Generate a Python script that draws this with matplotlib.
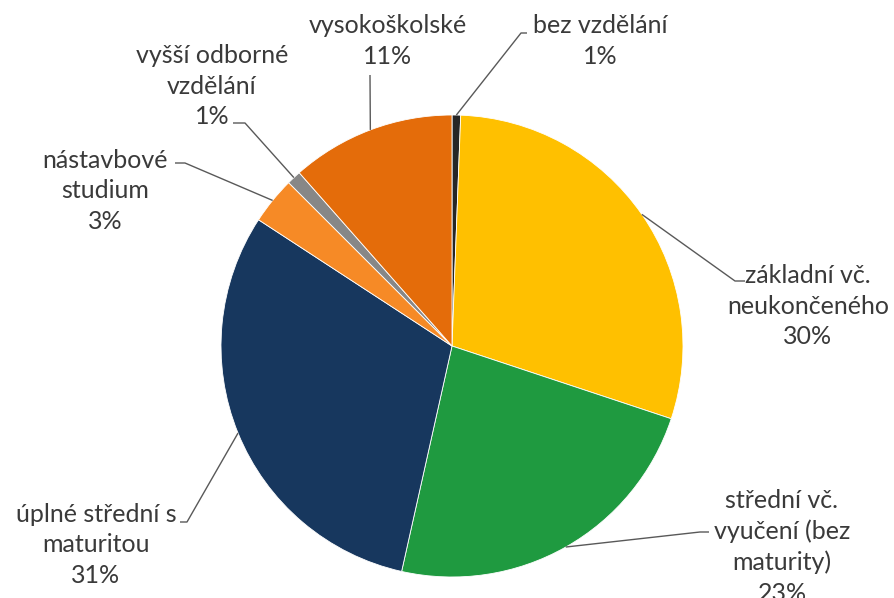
import numpy as np
import matplotlib
matplotlib.use("Agg")
from matplotlib import pyplot as plt

# data (share of population by education, clockwise from the top)
labels = ['bez vzdělání', 'základní vč.\nneukončeného', 'střední vč.\nvyučení (bez\nmaturity)',
          'úplné střední s\nmaturitou', 'nástavbové\nstudium', 'vyšší odborné\nvzdělání', 'vysokoškolské']
pct_labels = ['1%', '30%', '23%', '31%', '3%', '1%', '11%']
values = [0.6, 29.5, 23.4, 30.7, 3.3, 1.0, 11.5]
colors = ['#262626', '#FFC000', '#1F9A40', '#17375E', '#F68A26', '#878787', '#E46C0A']

# layout, in pixels of the 895x598 picture (y measured from top)
W, H = 895, 598
cx, cy, r = 452, 346, 231
# label block centre and leader elbow / end points
label_pos = [(600, 41), (808, 306), (782, 547), (96, 545), (105, 191), (212, 86), (388, 41)]
elbows = [[(521, 33), (527, 33)],
          [(735, 281), (745, 281)],
          [(700, 532), (709, 532)],
          [(187, 522), (180, 522)],
          [(185, 163), (175, 163)],
          [(245, 123), (233, 123)],
          [(370, 75)]]

plt.rcParams['font.family'] = ['Lato', 'DejaVu Sans']
fig = plt.figure(figsize=(W / 100, H / 100), dpi=100)
ax = fig.add_axes([0, 0, 1, 1])

wedges, _ = ax.pie(values, colors=colors, startangle=90, counterclock=False,
                   center=(cx, H - cy), radius=r,
                   wedgeprops=dict(edgecolor='white', linewidth=0.6))

for i, w in enumerate(wedges):
    mid = np.deg2rad((w.theta1 + w.theta2) / 2)
    x0 = cx + r * np.cos(mid)
    y0 = (H - cy) + r * np.sin(mid)
    xs = [x0] + [p[0] for p in elbows[i]]
    ys = [y0] + [H - p[1] for p in elbows[i]]
    ax.plot(xs, ys, color='#595959', lw=1.0, solid_capstyle='butt')
    lx, ly = label_pos[i]
    ax.text(lx, H - ly, labels[i] + '\n' + pct_labels[i], ha='center', va='center',
            fontsize=18, color='#3a3a3a', linespacing=1.38)

ax.set_xlim(0, W)
ax.set_ylim(0, H)
ax.set_aspect('auto')
ax.axis('off')

plt.savefig('out.png', dpi=100)
